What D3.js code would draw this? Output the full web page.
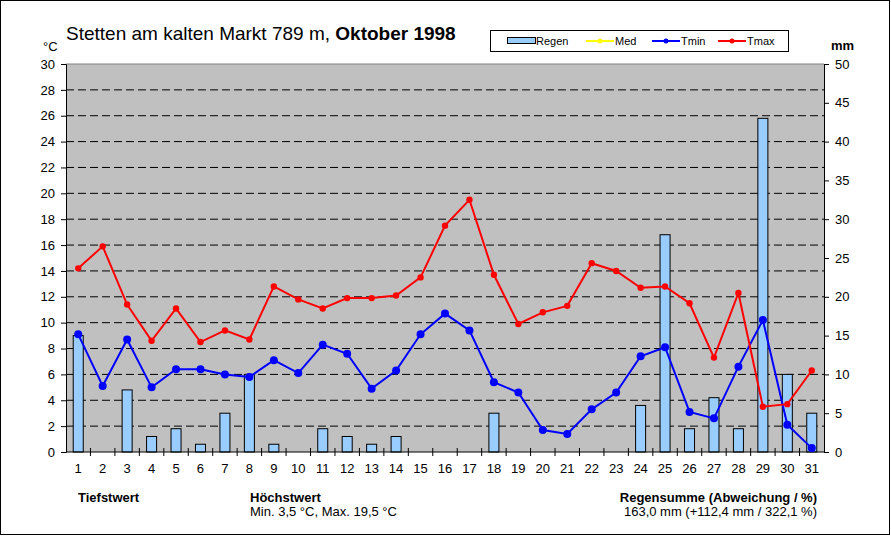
<!DOCTYPE html>
<html><head><meta charset="utf-8">
<script src="https://cdn.jsdelivr.net/npm/d3@7"></script>
<style>body{margin:0;background:#fff}svg{display:block}text{font-family:"Liberation Sans",Arial,sans-serif}</style>
</head><body>
<script>
const days = d3.range(1, 32).map(String);
const tmax = [14.2,15.9,11.4,8.6,11.1,8.5,9.4,8.7,12.8,11.8,11.1,11.9,11.9,12.1,13.5,17.5,19.5,13.7,9.9,10.8,11.3,14.6,14.0,12.7,12.8,11.5,7.3,12.3,3.5,3.7,6.3];
const tmin = [9.1,5.1,8.7,5.0,6.4,6.4,6.0,5.8,7.1,6.1,8.3,7.6,4.9,6.3,9.1,10.7,9.4,5.4,4.6,1.7,1.4,3.3,4.6,7.4,8.1,3.1,2.6,6.6,10.2,2.1,0.3];
const regen = [15,0,8,2,3,1,5,10,1,0,3,2,1,2,0,0,0,5,0,0,0,0,0,6,28,3,7,3,43,10,5];
const tempTicks = d3.range(0, 31, 2);
const rainTicks = d3.range(0, 51, 5);
const legendItems = ["Regen","Med","Tmin","Tmax"];

const W = 891, H = 536;
const L = 66, R = 824, T = 64, B = 452;
const svg = d3.select("body").append("svg").attr("width", W).attr("height", H);
svg.append("rect").attr("x",0.5).attr("y",0.5).attr("width",W-2).attr("height",H-2).attr("fill","#fff").attr("stroke","#000");

const x = d3.scaleBand().domain(days).range([L, R]).padding(0);
const yT = d3.scaleLinear().domain([0, 30]).range([B, T]);
const yR = d3.scaleLinear().domain([0, 50]).range([B, T]);

svg.append("rect").attr("x",L).attr("y",T).attr("width",R-L).attr("height",B-T).attr("fill","#c0c0c0");

// grid
svg.append("g").selectAll("line").data(tempTicks.filter(t=>t>0 && t<30)).join("line")
  .attr("x1",L).attr("x2",R).attr("y1",d=>yT(d)).attr("y2",d=>yT(d))
  .attr("stroke","#000").attr("stroke-dasharray","8,4").attr("stroke-width",1);

// bars
const bw = x.bandwidth()*0.41;
svg.append("g").selectAll("rect").data(regen.map((v,i)=>({d:days[i],v}))).join("rect")
  .filter(d=>d.v>0)
  .attr("x",d=>x(d.d)+x.bandwidth()/2-bw/2).attr("width",bw)
  .attr("y",d=>yR(d.v)).attr("height",d=>B-yR(d.v))
  .attr("fill","#99ccff").attr("stroke","#000").attr("stroke-width",1);

// top line
svg.append("line").attr("x1",L).attr("x2",R).attr("y1",T).attr("y2",T).attr("stroke","#808080");

// axes
const axL = svg.append("g").attr("transform",`translate(${L},0)`)
  .call(d3.axisLeft(yT).tickValues(tempTicks).tickSize(5).tickPadding(6));
const axR = svg.append("g").attr("transform",`translate(${R},0)`)
  .call(d3.axisRight(yR).tickValues(rainTicks).tickSize(5).tickPadding(6));
const axB = svg.append("g").attr("transform",`translate(0,${B})`)
  .call(d3.axisBottom(x).tickSize(0).tickPadding(12));
[axL,axR,axB].forEach(a=>{
  a.selectAll("path").attr("stroke","#000");
  a.selectAll("line").attr("stroke","#000");
  a.selectAll("text").attr("font-size",13).attr("fill","#000").style("font-family","'Liberation Sans',Arial,sans-serif");
});
axB.select("path").remove();
svg.append("line").attr("x1",L).attr("x2",R).attr("y1",B).attr("y2",B).attr("stroke","#000");
// x boundary ticks
svg.append("g").selectAll("line").data(days.slice(1)).join("line")
  .attr("x1",d=>x(d)).attr("x2",d=>x(d)).attr("y1",B-4).attr("y2",B+4).attr("stroke","#000");

// lines
function series(vals, color, r){
  const pts = vals.map((v,i)=>[x(days[i])+x.bandwidth()/2, yT(v)]);
  svg.append("path").attr("d", d3.line()(pts)).attr("fill","none").attr("stroke",color).attr("stroke-width",2);
  svg.append("g").selectAll("circle").data(pts).join("circle")
    .attr("cx",d=>d[0]).attr("cy",d=>d[1]).attr("r",r).attr("fill",color);
}
series(tmin, "#0000ff", 4);
series(tmax, "#ff0000", 3.2);

// title
const title = svg.append("text").attr("x",66).attr("y",40).attr("font-size",19).attr("fill","#000");
title.append("tspan").text("Stetten am kalten Markt 789 m, ");
title.append("tspan").attr("font-weight","bold").text("Oktober 1998");
svg.append("text").attr("x",43).attr("y",51).attr("font-size",13).text("°C");
svg.append("text").attr("x",831).attr("y",50).attr("font-size",13).attr("font-weight","bold").text("mm");

// legend
const lg = svg.append("g");
lg.append("rect").attr("x",490.5).attr("y",30.5).attr("width",298).attr("height",21).attr("fill","#fff").attr("stroke","#000");
const lx = [507, 586, 652, 718];
const lcol = [null, "#ffff00", "#0000ff", "#ff0000"];
legendItems.forEach((name,i)=>{
  if(i===0){
    lg.append("rect").attr("x",lx[i]+0.5).attr("y",37.5).attr("width",28).attr("height",6).attr("fill","#99ccff").attr("stroke","#000");
  } else {
    lg.append("line").attr("x1",lx[i]).attr("x2",lx[i]+28).attr("y1",41).attr("y2",41).attr("stroke",lcol[i]).attr("stroke-width",2);
    lg.append("circle").attr("cx",lx[i]+14).attr("cy",41).attr("r",2.5).attr("fill",lcol[i]);
  }
  lg.append("text").attr("x",lx[i]+29).attr("y",45).attr("font-size",11).text(name);
});

// footer
svg.append("text").attr("x",78).attr("y",502).attr("font-size",13).attr("font-weight","bold").text("Tiefstwert");
svg.append("text").attr("x",250).attr("y",502).attr("font-size",13).attr("font-weight","bold").text("Höchstwert");
svg.append("text").attr("x",250).attr("y",516).attr("font-size",13).text("Min. 3,5 °C, Max. 19,5 °C");
svg.append("text").attr("x",817).attr("y",502).attr("font-size",13).attr("font-weight","bold").attr("text-anchor","end").text("Regensumme (Abweichung / %)");
svg.append("text").attr("x",817).attr("y",516).attr("font-size",13).attr("text-anchor","end").text("163,0 mm (+112,4 mm / 322,1 %)");
</script>
</body></html>
